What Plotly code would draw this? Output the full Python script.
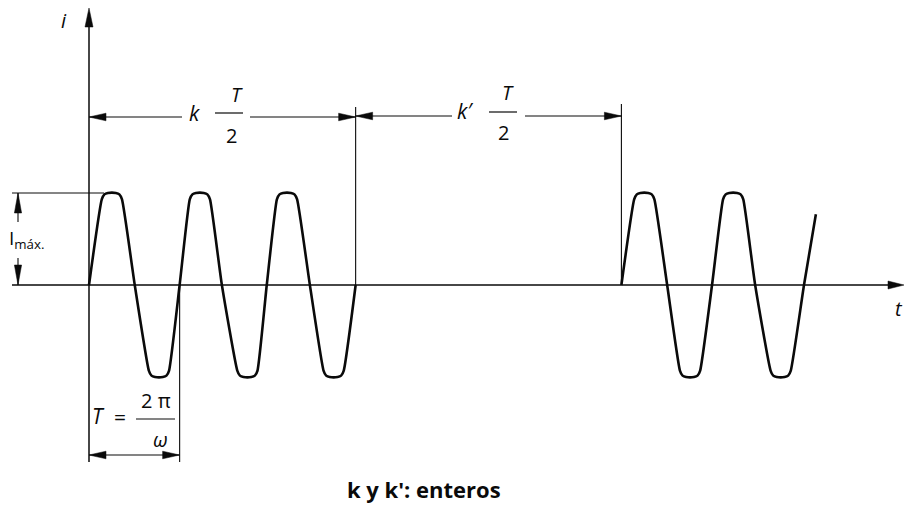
import plotly.graph_objects as go

# ---- data (t in periods T, i in units of I_max) ----
wave1_t = [0.00, 0.145, 0.175, 0.215, 0.305, 0.345, 0.375, 0.52,
           0.68, 0.71, 0.75, 0.84, 0.88, 0.91, 1.03,
           1.145, 1.175, 1.215, 1.305, 1.345, 1.375, 1.51,
           1.685, 1.715, 1.755, 1.845, 1.885, 1.915, 2.02,
           2.135, 2.165, 2.205, 2.295, 2.335, 2.365, 2.51,
           2.665, 2.695, 2.735, 2.825, 2.865, 2.895, 3.03]
wave1_i = [0.00, 0.93, 0.985, 1.00, 1.00, 0.985, 0.93, 0.00,
           -0.93, -0.985, -1.00, -1.00, -0.985, -0.93, 0.00,
           0.93, 0.985, 1.00, 1.00, 0.985, 0.93, 0.00,
           -0.93, -0.985, -1.00, -1.00, -0.985, -0.93, 0.00,
           0.93, 0.985, 1.00, 1.00, 0.985, 0.93, 0.00,
           -0.93, -0.985, -1.00, -1.00, -0.985, -0.93, 0.00]
wave2_t = [6.05, 6.195, 6.225, 6.265, 6.355, 6.395, 6.425, 6.57,
           6.715, 6.745, 6.785, 6.875, 6.915, 6.945, 7.08,
           7.205, 7.235, 7.275, 7.365, 7.405, 7.435, 7.57,
           7.745, 7.775, 7.815, 7.905, 7.945, 7.975, 8.125, 8.26]
wave2_i = [0.00, 0.93, 0.985, 1.00, 1.00, 0.985, 0.93, 0.00,
           -0.93, -0.985, -1.00, -1.00, -0.985, -0.93, 0.00,
           0.93, 0.985, 1.00, 1.00, 0.985, 0.93, 0.00,
           -0.93, -0.985, -1.00, -1.00, -0.985, -0.93, 0.00, 0.77]

axis_labels = ["i", "t"]
dim_labels = ["k", "k′"]
imax_label = "I<sub>máx.</sub>"
footnote = "k y k': enteros"

# ---- layout helpers (screen pixel -> data) ----
W, H = 905, 507
X0PX, Y0PX, PX_T, PX_I = 89, 285, 88.0, 92.0


def tx(px):
    return (px - X0PX) / PX_T


def iy(py):
    return (Y0PX - py) / PX_I


BLACK = "#0a0a0a"
FONT = "Open Sans"

fig = go.Figure()
for wt, wi in ((wave1_t, wave1_i), (wave2_t, wave2_i)):
    fig.add_trace(go.Scatter(x=wt, y=wi, mode="lines",
                             line=dict(color=BLACK, width=2.6, shape="spline", smoothing=0.5),
                             hoverinfo="skip", showlegend=False))

shapes = []


def line(x0, y0, x1, y1, w=1.2):
    shapes.append(dict(type="line", x0=x0, y0=y0, x1=x1, y1=y1, xref="x", yref="y",
                       line=dict(color=BLACK, width=w)))


def arrow(x, y, d, L=17, h=3.8):
    if d == "right":
        p = f"M0,0 L{-L},{h} L{-L},{-h} Z"
    elif d == "left":
        p = f"M0,0 L{L},{h} L{L},{-h} Z"
    elif d == "up":
        p = f"M0,0 L{h},{-L} L{-h},{-L} Z"
    else:
        p = f"M0,0 L{h},{L} L{-h},{L} Z"
    shapes.append(dict(type="path", path=p, xsizemode="pixel", ysizemode="pixel",
                       xanchor=x, yanchor=y, xref="x", yref="y",
                       fillcolor=BLACK, line=dict(color=BLACK, width=0.5)))


t_end1 = wave1_t[-1]
t_start2 = wave2_t[0]
t_period = wave1_t[14]
imax = max(wave1_i)

# main axes
line(tx(12), 0, tx(895), 0, 1.6)
arrow(tx(904), 0, "right", L=16, h=4)
line(0, iy(462), 0, iy(14), 1.5)
arrow(0, iy(8), "up", L=19, h=4)

# extension lines
line(t_end1, 0, t_end1, iy(107), 1.1)
line(t_start2, 0, t_start2, iy(104), 1.1)
line(tx(12), imax, tx(104), imax, 1.0)
line(t_period, 0, t_period, iy(462), 1.1)

# k T/2 dimension
yk = iy(117)
line(0, yk, tx(182), yk, 1.2)
line(tx(250), yk, t_end1, yk, 1.2)
arrow(0, yk, "left")
arrow(t_end1, yk, "right")
line(tx(215), iy(113), tx(243), iy(113), 1.2)

# k' T/2 dimension
yk2 = iy(116)
line(t_end1, yk2, tx(452), yk2, 1.2)
line(tx(525), yk2, t_start2, yk2, 1.2)
arrow(t_end1, yk2, "left")
arrow(t_start2, yk2, "right")
line(tx(489), iy(112), tx(517), iy(112), 1.2)

# I max dimension
xim = tx(18)
line(xim, imax, xim, iy(222), 1.1)
line(xim, iy(258), xim, 0, 1.1)
arrow(xim, imax, "up", L=20, h=3.6)
arrow(xim, 0, "down", L=20, h=3.6)

# T dimension
yT = iy(455)
line(0, yT, t_period, yT, 1.2)
arrow(0, yT, "left")
arrow(t_period, yT, "right")
line(tx(136), iy(419), tx(175), iy(419), 1.2)

annotations = []


def text(px, py, s, size=17, italic=False, bold=False, xanchor="center"):
    if italic:
        s = f"<i>{s}</i>"
    if bold:
        s = f"<b>{s}</b>"
    annotations.append(dict(x=tx(px), y=iy(py), xref="x", yref="y", text=s, showarrow=False,
                            xanchor=xanchor, yanchor="middle",
                            font=dict(family=FONT, size=size, color=BLACK)))


text(64, 20, axis_labels[0], size=20, italic=True)
text(899, 308, axis_labels[1], size=20, italic=True)
text(194, 113, dim_labels[0], size=21, italic=True)
text(237, 94, "T", size=20, italic=True)
text(231, 135, "2", size=20)
text(465, 111, dim_labels[1], size=21, italic=True)
text(508, 92, "T", size=20, italic=True)
text(503, 132, "2", size=20)
text(7, 239, imax_label, size=19, xanchor="left")
text(98, 416, "T", size=21, italic=True)
text(120, 417, "=", size=21)
text(156, 400, "2 π", size=20)
text(160, 439, "ω", size=20, italic=True)
text(424, 489, footnote, size=22, bold=True)

fig.update_layout(
    width=W, height=H, margin=dict(l=0, r=0, t=0, b=0),
    paper_bgcolor="white", plot_bgcolor="white",
    xaxis=dict(range=[tx(0), tx(W)], visible=False, fixedrange=True),
    yaxis=dict(range=[iy(H), iy(0)], visible=False, fixedrange=True),
    shapes=shapes, annotations=annotations, showlegend=False,
)

fig.write_html(
    "out.html",
    config={"displayModeBar": False},
    post_script="document.body.style.margin='0';document.body.style.overflow='hidden';",
)
